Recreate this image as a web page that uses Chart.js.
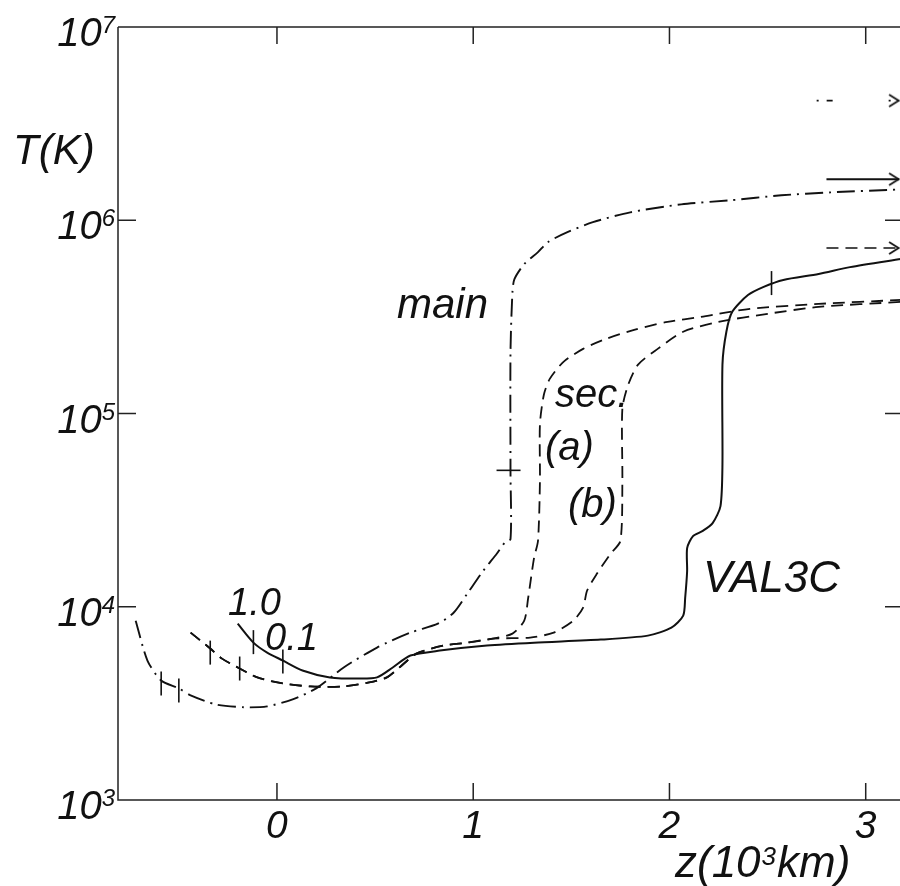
<!DOCTYPE html>
<html>
<head>
<meta charset="utf-8">
<script src="https://cdn.jsdelivr.net/npm/chart.js@4.4.0/dist/chart.umd.min.js"></script>
<style>
  html, body { margin: 0; padding: 0; background: #fff; overflow: hidden; }
  #wrap { width: 910px; height: 886px; }
</style>
</head>
<body>
<div id="wrap"><canvas id="chart" width="910" height="886"></canvas></div>
<script>
// height z in 10^3 km, temperature T in K
const zMain = [-0.72, -0.66, -0.59, -0.50, -0.44, -0.31, -0.17, -0.05, 0.08, 0.20, 0.34, 0.51, 0.68, 0.82, 0.90, 0.97, 1.05, 1.12, 1.16, 1.19, 1.19, 1.19, 1.20, 1.21, 1.26, 1.33, 1.38, 1.48, 1.61, 1.80, 2.06, 2.31, 2.57, 2.82, 3.18];
const tMain = [8470, 5270, 4150, 3780, 3480, 3120, 3020, 3050, 3320, 3780, 4850, 6150, 7350, 8170, 9310, 11700, 15300, 18800, 21400, 22400, 50000, 209000, 426000, 496000, 593000, 684000, 770000, 867000, 977000, 1099000, 1209000, 1268000, 1346000, 1394000, 1445000];

const zVal = [-0.20, -0.12, -0.05, 0.03, 0.13, 0.27, 0.42, 0.51, 0.59, 0.68, 0.83, 1.07, 1.31, 1.65, 1.89, 2.01, 2.07, 2.08, 2.09, 2.09, 2.12, 2.17, 2.22, 2.26, 2.27, 2.27, 2.29, 2.32, 2.40, 2.48, 2.58, 2.76, 2.92, 3.18];
const tVal = [8170, 6520, 5790, 5270, 4680, 4310, 4250, 4310, 4850, 5590, 5930, 6300, 6520, 6760, 7090, 7790, 8990, 11100, 15300, 20100, 23200, 24700, 27100, 33200, 54600, 179000, 265000, 336000, 410000, 452000, 491000, 527000, 572000, 630000];

const zSecA = [-0.44, -0.34, -0.28, -0.19, -0.10, 0.03, 0.17, 0.34, 0.47, 0.56, 0.63, 0.71, 0.85, 0.97, 1.10, 1.20, 1.26, 1.28, 1.31, 1.33, 1.34, 1.34, 1.36, 1.39, 1.46, 1.56, 1.68, 1.82, 1.99, 2.16, 2.41, 2.76, 3.18];
const tSecA = [7350, 6080, 5390, 4790, 4310, 4010, 3870, 3870, 4060, 4310, 4910, 5720, 6300, 6520, 6840, 7260, 8470, 11100, 17900, 21900, 44600, 87800, 125000, 151000, 185000, 216000, 244000, 271000, 298000, 316000, 348000, 369000, 387000];

const zSecB = [-0.44, -0.34, -0.28, -0.19, -0.10, 0.03, 0.17, 0.34, 0.47, 0.56, 0.63, 0.71, 0.85, 0.97, 1.10, 1.29, 1.41, 1.51, 1.56, 1.58, 1.63, 1.70, 1.75, 1.76, 1.76, 1.79, 1.84, 1.94, 2.07, 2.25, 2.50, 2.76, 3.18];
const tSecB = [7350, 6080, 5390, 4790, 4310, 4010, 3870, 3870, 4060, 4310, 4910, 5720, 6300, 6520, 6840, 6920, 7350, 8470, 9890, 12100, 14800, 18800, 21900, 44600, 106000, 141000, 179000, 216000, 265000, 298000, 328000, 356000, 378000];

// small cross marks on the curves (1.0 / 0.1 levels etc.)
const markZ = [-0.12, 0.03, 2.52, -0.34, -0.19, -0.59, -0.50, 1.18];
const markT = [6560, 5210, 473000, 5790, 4790, 4010, 3690, 50800];
const markVertical = [true, true, true, true, true, true, true, false];

// coronal values shown as arrows at the right edge
const arrowZ = [2.80, 3.17];
const arrowDashDotZ = [2.75, 3.17];
const arrowSolidT = 1630000;
const arrowDashT = 718000;
const arrowDashDotT = 4160000;

const xTicks = [0, 1, 2, 3];
const yTickExps = [3, 4, 5, 6, 7];

const ink = '#111';
const font = '"Liberation Sans", Arial, sans-serif';
const dashDot = [18, 6, 2, 6];
const dashed = [12, 7];

function pts(zs, ts) {
  return zs.map((z, i) => ({ x: z, y: ts[i] }));
}

// open arrow head ">"
const chevron = document.createElement('canvas');
chevron.width = 24;
chevron.height = 16;
(function () {
  const c = chevron.getContext('2d');
  c.strokeStyle = ink;
  c.lineWidth = 1.8;
  c.beginPath();
  c.moveTo(2, 2);
  c.lineTo(11.5, 8);
  c.lineTo(2, 14);
  c.stroke();
})();

const framePlugin = {
  id: 'frame',
  afterDraw(chart) {
    const { ctx, chartArea: a, scales: { x, y } } = chart;
    ctx.save();
    ctx.strokeStyle = '#222';
    ctx.lineWidth = 1.5;
    ctx.beginPath();
    ctx.moveTo(a.left, a.top);
    ctx.lineTo(a.left, a.bottom);
    ctx.lineTo(a.right, a.bottom);
    ctx.lineTo(a.right, a.top);
    ctx.lineTo(a.left, a.top);
    xTicks.forEach(v => {
      const px = x.getPixelForValue(v);
      ctx.moveTo(px, a.bottom);
      ctx.lineTo(px, a.bottom - 17);
      ctx.moveTo(px, a.top);
      ctx.lineTo(px, a.top + 17);
    });
    yTickExps.forEach(e => {
      const py = y.getPixelForValue(Math.pow(10, e));
      ctx.moveTo(a.left, py);
      ctx.lineTo(a.left + 18, py);
      ctx.moveTo(a.right, py);
      ctx.lineTo(a.right - 18, py);
    });
    ctx.stroke();

    ctx.fillStyle = ink;
    ctx.textBaseline = 'alphabetic';

    // y tick labels 10^n
    yTickExps.forEach(e => {
      const py = y.getPixelForValue(Math.pow(10, e));
      ctx.textAlign = 'right';
      ctx.font = 'italic 24px ' + font;
      ctx.fillText(String(e), 115, py + 6);
      const w = ctx.measureText(String(e)).width;
      ctx.font = 'italic 40px ' + font;
      ctx.fillText('10', 115 - w, py + 19);
    });

    // x tick labels
    ctx.textAlign = 'center';
    ctx.font = 'italic 39px ' + font;
    xTicks.forEach(v => {
      ctx.fillText(String(v), x.getPixelForValue(v), a.bottom + 38);
    });

    // axis titles
    ctx.textAlign = 'left';
    ctx.font = 'italic 42px ' + font;
    ctx.fillText('T(K)', 13, 164);

    let cx = 675;
    ctx.font = 'italic 44px ' + font;
    ctx.fillText('z(10', cx, 877);
    cx += ctx.measureText('z(10').width + 1;
    ctx.font = 'italic 26px ' + font;
    ctx.fillText('3', cx, 865);
    cx += ctx.measureText('3').width + 1;
    ctx.font = 'italic 44px ' + font;
    ctx.fillText('km)', cx, 877);

    // curve annotations
    ctx.font = 'italic 42px ' + font;
    ctx.fillText('main', 397, 318);
    ctx.font = 'italic 40px ' + font;
    ctx.fillText('sec.', 555, 407);
    ctx.fillText('(a)', 545, 460);
    ctx.fillText('(b)', 568, 517);
    ctx.font = 'italic 44px ' + font;
    ctx.fillText('VAL3C', 703, 592);
    ctx.font = 'italic 38px ' + font;
    ctx.fillText('1.0', 228, 615);
    ctx.fillText('0.1', 265, 650);
    ctx.restore();
  }
};

const ctx = document.getElementById('chart').getContext('2d');
new Chart(ctx, {
  type: 'line',
  data: {
    datasets: [
      { label: 'main', data: pts(zMain, tMain), borderDash: dashDot, borderWidth: 1.9 },
      { label: 'VAL3C', data: pts(zVal, tVal), borderWidth: 2 },
      { label: 'sec. (a)', data: pts(zSecA, tSecA), borderDash: dashed, borderWidth: 1.8 },
      { label: 'sec. (b)', data: pts(zSecB, tSecB), borderDash: dashed, borderWidth: 1.8 },
      { label: 'corona solid', data: pts(arrowZ, [arrowSolidT, arrowSolidT]), borderWidth: 1.8, tension: 0 },
      { label: 'corona dashed', data: pts(arrowZ, [arrowDashT, arrowDashT]), borderDash: dashed, borderWidth: 1.6, tension: 0 },
      { label: 'corona dash-dot', data: pts(arrowDashDotZ, [arrowDashDotT, arrowDashDotT]), borderDash: [2, 8, 6, 56], borderWidth: 1.6, tension: 0 },
      {
        label: 'arrow heads',
        data: pts([arrowZ[1], arrowZ[1], arrowDashDotZ[1]], [arrowSolidT, arrowDashT, arrowDashDotT]),
        showLine: false,
        pointStyle: chevron,
        pointRadius: 8
      },
      {
        label: 'marks',
        data: pts(markZ, markT),
        showLine: false,
        pointStyle: 'line',
        pointRadius: 12,
        pointRotation: markVertical.map(v => v ? 90 : 0),
        pointBorderColor: ink,
        pointBorderWidth: 1.6
      }
    ]
  },
  options: {
    responsive: false,
    devicePixelRatio: 1,
    animation: false,
    layout: { autoPadding: false, padding: { left: 118, right: 7, top: 27, bottom: 86 } },
    plugins: { legend: { display: false }, tooltip: { enabled: false } },
    elements: {
      point: { radius: 0 },
      line: { tension: 0.25, borderColor: ink, borderWidth: 2, fill: false }
    },
    scales: {
      x: { type: 'linear', min: -0.81, max: 3.19, display: false },
      y: { type: 'logarithmic', min: 1000, max: 10000000, display: false }
    }
  },
  plugins: [framePlugin]
});
</script>
</body>
</html>
